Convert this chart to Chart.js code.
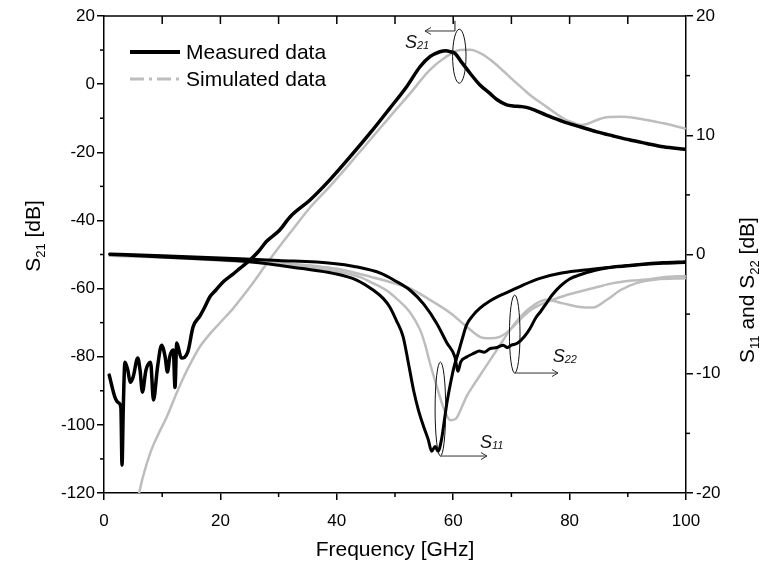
<!DOCTYPE html>
<html><head><meta charset="utf-8">
<script src="https://cdn.jsdelivr.net/npm/chart.js@4.4.1/dist/chart.umd.min.js"></script>
<style>html,body{margin:0;padding:0;background:#fff;}#wrap{width:763px;height:567px;}</style>
</head><body><div id="wrap"><canvas id="c" width="763" height="567"></canvas></div>
<script>
// ---------- data ----------
const xTickValues = [0, 20, 40, 60, 80, 100];
const xMinorValues = [10, 30, 50, 70, 90];
const xTopTickValues = [10, 20, 30, 40, 50, 60, 70, 80, 90];
const leftTickValues = [-120, -100, -80, -60, -40, -20, 0, 20];
const leftMinorValues = [-110, -90, -70, -50, -30, -10, 10];
const rightTickValues = [-20, -10, 0, 10, 20];
const rightMinorValues = [-15, -5, 5, 15];

const s21MeasF = [0.9,1.9,2.5,2.9,3.1,3.3,3.6,4.1,4.5,5.0,5.8,6.2,6.6,7.2,8.0,8.5,9.2,9.9,10.5,10.9,11.3,11.9,12.2,12.5,13.3,14.4,15.3,16.5,17.3,18.2,19.2,20.5,22,23.4,25.1,26.5,27.9,30.2,32,35.4,38.8,42.3,45.7,49.1,52,54.3,56,57.7,58.8,59.5,60.3,61.5,62.9,64.6,66.3,67.5,69.2,70.3,71.8,73.2,76,78.9,81.8,84.7,87.5,90.4,93.2,96.1,99.8];
const s21MeasDB = [-85.4,-92,-93.5,-95,-111.8,-96,-81.6,-84,-87.5,-86,-80.4,-84,-90.4,-84,-81.6,-92.7,-83,-76.6,-80,-84.5,-80,-78,-89,-76,-80.4,-78.6,-71.3,-68,-65.5,-62.4,-60.5,-58,-56,-54,-51.6,-49.2,-46.2,-42.8,-38.9,-34,-28.1,-21.3,-14.4,-7.1,-0.75,5.1,8.05,9.5,9.8,9.5,9.05,6.3,3.2,-0.25,-2.7,-4.5,-6.1,-6.4,-6.6,-7.1,-9.1,-11,-12.5,-14,-15.2,-16.4,-17.4,-18.4,-19.1];

const s21SimF = [5.9,6.7,8,9.4,10.8,12.2,13.6,15,16.5,18.2,19.9,22.2,25.1,28,30.8,32.5,35.4,38.8,42.3,45.7,49.1,52.6,56,58.8,61.2,62.9,65.2,66.5,68,70.3,72,73.2,76,78.9,80.6,81.8,83,84,86.4,88.7,91.5,96.1,99.8];
const s21SimDB = [-121,-115.2,-108,-102.5,-97.6,-91.8,-86.3,-81.5,-77,-73.3,-70.1,-65.8,-59.5,-52.6,-46.2,-42.5,-36.2,-30,-23.2,-16.4,-9.6,-2.7,4.2,8.05,10,10.1,8.6,7.0,4.8,1.2,-1.4,-3.2,-6.6,-10,-11.3,-12,-11.7,-11,-9.7,-9.6,-10,-11.5,-13];

const s11MeasF = [1,10,20,25.1,30,33.7,39.4,43.4,46.3,48,49.1,50.3,51.4,52.3,53.2,54,54.9,55.7,56.3,56.9,57.4,58,58.4,58.9,59.5,60.1,60.9,61.6,62.3,63.4,64.6,66.3,68,69.2,72,74.9,78.4,81.8,84.6,87.5,90.4,93.2,96.1,99.8];
const s11MeasDB = [0,-0.2,-0.45,-0.6,-0.9,-1.16,-1.58,-2.14,-3.0,-3.7,-4.4,-5.6,-6.9,-9.1,-11.4,-13,-14.4,-15.5,-16.5,-16.1,-16.5,-15.5,-14.2,-12.5,-10.9,-9.5,-8.2,-7.0,-5.9,-5.1,-4.5,-3.9,-3.45,-3.2,-2.56,-2.0,-1.58,-1.35,-1.2,-1.05,-0.95,-0.82,-0.74,-0.68];

const s22MeasF = [1,10,20,30,39.4,43,47.7,50,52.6,55,57.2,58.9,60.3,60.8,61.3,62.3,63.5,64.5,65.3,66.3,67.5,68.6,69.3,70,71,72.2,73.2,74.2,75,76,77,78.4,80,81.8,84.6,87.5,90.4,93.2,96.1,99.8];
const s22MeasDB = [0.05,-0.1,-0.3,-0.5,-0.75,-1.0,-1.6,-2.2,-3.0,-4.2,-5.8,-7.4,-8.6,-9.8,-9.0,-8.6,-8.3,-8.1,-8.2,-7.9,-7.8,-7.6,-7.8,-7.6,-7.45,-6.9,-6.2,-5.3,-4.8,-4.1,-3.4,-2.65,-2.05,-1.7,-1.3,-1.05,-0.9,-0.78,-0.68,-0.6];

const s11SimF = [1,10,20,30,40,44,46.2,48.5,50.5,52.5,54.3,55.2,56,57.2,58.3,59.5,60.4,61.3,62.3,63.7,65.2,67.5,69.8,72,74,76,78.9,81.8,84,86.4,88.7,91.5,94.9,99.8];
const s11SimDB = [-0.1,-0.25,-0.5,-0.85,-1.4,-1.9,-2.4,-3.0,-3.8,-4.8,-6.3,-7.6,-9.1,-11.1,-12.8,-13.9,-13.8,-13.0,-11.9,-10.8,-9.7,-8.0,-6.3,-5.0,-4.2,-3.8,-4.1,-4.4,-4.45,-3.8,-3.0,-2.4,-2.1,-2.0];

const s22SimF = [1,10,20,30,40,46,49.1,52.6,56,59.5,62.3,64.6,66.3,68,69.8,72,73.8,76,78.9,81.8,84.6,87.5,90.4,93.2,96.1,99.8];
const s22SimDB = [-0.1,-0.2,-0.4,-0.7,-1.2,-1.9,-2.3,-2.85,-3.8,-4.9,-6.05,-6.9,-7.03,-6.9,-6.3,-5.2,-4.5,-4.0,-3.5,-3.1,-2.75,-2.4,-2.2,-2.1,-1.9,-1.8];

const legendLabels = ['Measured data', 'Simulated data'];

// ---------- helpers ----------
const FONT = "'Liberation Sans', Arial, sans-serif";
const BLACK = '#000000';
const GRAY = '#bdbdbd';
const pts = (f, v) => f.map((x, i) => ({x: x, y: v[i]}));

// annotations anchored in data coordinates
const annotations = [
  {sub: '21', axis: 'y', ellipse: {x: 61.05, y: 8.2, rx: 6.7, ry: 27},
   stem: {x: 60.3, y1: 18.6, y2: 15.6}, arrow: {x1: 60.3, x2: 55.15, y: 15.6},
   text: {x: 51.7, y: 10.6}},
  {sub: '11', axis: 'y2', ellipse: {x: 57.8, y: -12.96, rx: 5.3, ry: 47},
   arrow: {x1: 57.8, x2: 65.8, y: -16.9}, text: {x: 64.6, y: -16.2}},
  {sub: '22', axis: 'y2', ellipse: {x: 70.57, y: -6.67, rx: 5.3, ry: 39},
   arrow: {x1: 70.57, x2: 78.0, y: -9.94}, text: {x: 77.1, y: -9.0}}
];

function line(ctx, x1, y1, x2, y2) { ctx.beginPath(); ctx.moveTo(x1, y1); ctx.lineTo(x2, y2); ctx.stroke(); }

const framePlugin = {
  id: 'frame',
  afterDraw(chart) {
    const {ctx, chartArea: a, scales: {x, y, y2}} = chart;
    ctx.save();
    ctx.strokeStyle = BLACK; ctx.lineWidth = 1.5;
    line(ctx, a.left, a.top, a.right, a.top);
    xMinorValues.forEach(v => { const p = x.getPixelForValue(v); line(ctx, p, a.bottom, p, a.bottom + 4); });
    xTopTickValues.forEach(v => { const p = x.getPixelForValue(v); line(ctx, p, a.top, p, a.top + 8); });
    leftMinorValues.forEach(v => { const p = y.getPixelForValue(v); line(ctx, a.left - 4, p, a.left, p); });
    rightMinorValues.forEach(v => { const p = y2.getPixelForValue(v); line(ctx, a.right, p, a.right + 4, p); });
    ctx.restore();
  }
};

function drawRich(ctx, parts, cx, cy, size, rot, italic) {
  ctx.save();
  ctx.translate(cx, cy); ctx.rotate(rot);
  const subSize = Math.round(size * 0.6);
  const st = italic ? 'italic ' : '';
  let total = 0;
  const widths = parts.map(([t, s]) => { ctx.font = st + (s ? subSize : size) + 'px ' + FONT; const w = ctx.measureText(t).width; total += w; return w; });
  let xx = -total / 2;
  ctx.textBaseline = 'alphabetic'; ctx.textAlign = 'left'; ctx.fillStyle = BLACK;
  parts.forEach(([t, s], i) => {
    ctx.font = st + (s ? subSize : size) + 'px ' + FONT;
    ctx.fillText(t, xx, size * 0.36 + (s ? size * 0.28 : 0));
    xx += widths[i];
  });
  ctx.restore();
}

const titlesPlugin = {
  id: 'sideTitles',
  afterDraw(chart) {
    const {ctx, chartArea: a} = chart;
    drawRich(ctx, [['S', 0], ['21', 1], [' [dB]', 0]], a.left - 72, a.top + 220, 21, -Math.PI / 2, false);
    drawRich(ctx, [['S', 0], ['11', 1], [' and S', 0], ['22', 1], [' [dB]', 0]], a.right + 60, a.top + 274, 21, -Math.PI / 2, false);
  }
};

const legendPlugin = {
  id: 'insideLegend',
  afterDraw(chart) {
    const {ctx, chartArea: a} = chart;
    ctx.save();
    const x1 = a.left + 26, x2 = a.left + 76, yA = a.top + 36, yB = a.top + 63;
    ctx.lineCap = 'butt';
    ctx.strokeStyle = BLACK; ctx.lineWidth = 4; line(ctx, x1, yA, x2, yA);
    ctx.strokeStyle = GRAY; ctx.lineWidth = 3; ctx.setLineDash([14, 5, 3, 5]); line(ctx, x1, yB, x2, yB);
    ctx.setLineDash([]);
    ctx.fillStyle = BLACK; ctx.font = '21px ' + FONT; ctx.textBaseline = 'middle'; ctx.textAlign = 'left';
    ctx.fillText(legendLabels[0], x2 + 6, yA + 1);
    ctx.fillText(legendLabels[1], x2 + 6, yB + 1);
    ctx.restore();
  }
};

const annotationPlugin = {
  id: 'sAnnotations',
  afterDatasetsDraw(chart) {
    const {ctx, scales} = chart;
    const x = scales.x;
    ctx.save();
    annotations.forEach(an => {
      const ys = scales[an.axis];
      ctx.strokeStyle = '#111'; ctx.lineWidth = 1;
      const e = an.ellipse;
      const ex = x.getPixelForValue(e.x), ey = ys.getPixelForValue(e.y);
      ctx.beginPath(); ctx.ellipse(ex, ey, e.rx, e.ry, 0, 0, Math.PI * 2); ctx.stroke();
      if (an.stem) {
        const sx = x.getPixelForValue(an.stem.x);
        line(ctx, sx, ys.getPixelForValue(an.stem.y1), sx, ys.getPixelForValue(an.stem.y2));
      }
      const ax1 = x.getPixelForValue(an.arrow.x1), ax2 = x.getPixelForValue(an.arrow.x2), ay = ys.getPixelForValue(an.arrow.y);
      ctx.strokeStyle = '#333';
      line(ctx, ax1, ay, ax2, ay);
      const dir = ax2 > ax1 ? 1 : -1;
      ctx.beginPath(); ctx.moveTo(ax2 - dir * 6, ay - 3.5); ctx.lineTo(ax2, ay); ctx.lineTo(ax2 - dir * 6, ay + 3.5); ctx.stroke();
      const tx = x.getPixelForValue(an.text.x), ty = ys.getPixelForValue(an.text.y);
      ctx.fillStyle = '#111'; ctx.textBaseline = 'alphabetic'; ctx.textAlign = 'left';
      ctx.font = 'italic 18px ' + FONT; ctx.fillText('S', tx, ty);
      const w = ctx.measureText('S').width;
      ctx.font = 'italic 11px ' + FONT; ctx.fillText(an.sub, tx + w, ty + 1);
    });
    ctx.restore();
  }
};

const tickFont = {family: FONT, size: 17};
const axisCommon = {
  grid: {display: true, drawOnChartArea: false, drawTicks: true, tickLength: 7, color: BLACK, lineWidth: 1.5},
  border: {display: true, color: BLACK, width: 1.5}
};

new Chart(document.getElementById('c'), {
  type: 'line',
  data: {
    datasets: [
      {label: 'Measured S21', data: pts(s21MeasF, s21MeasDB), yAxisID: 'y', borderColor: BLACK, borderWidth: 3.5},
      {label: 'Measured S11', data: pts(s11MeasF, s11MeasDB), yAxisID: 'y2', borderColor: BLACK, borderWidth: 3},
      {label: 'Measured S22', data: pts(s22MeasF, s22MeasDB), yAxisID: 'y2', borderColor: BLACK, borderWidth: 3},
      {label: 'Simulated S21', data: pts(s21SimF, s21SimDB), yAxisID: 'y', borderColor: GRAY, borderWidth: 2.5},
      {label: 'Simulated S11', data: pts(s11SimF, s11SimDB), yAxisID: 'y2', borderColor: GRAY, borderWidth: 2.5},
      {label: 'Simulated S22', data: pts(s22SimF, s22SimDB), yAxisID: 'y2', borderColor: GRAY, borderWidth: 2.5}
    ]
  },
  options: {
    responsive: false, animation: false, devicePixelRatio: 1,
    layout: {padding: {top: 16, left: 0, right: 0, bottom: 0}},
    elements: {point: {radius: 0}, line: {cubicInterpolationMode: 'monotone', borderJoinStyle: 'round', borderCapStyle: 'round'}},
    plugins: {legend: {display: false}, tooltip: {enabled: false}},
    scales: {
      x: Object.assign({}, axisCommon, {
        type: 'linear', min: 0, max: 100, position: 'bottom',
        afterBuildTicks: s => { s.ticks = xTickValues.map(v => ({value: v})); },
        afterFit: s => { s.height = 74; },
        ticks: {font: tickFont, color: BLACK, padding: 11, maxRotation: 0, autoSkip: false},
        title: {display: true, text: 'Frequency [GHz]', color: BLACK, font: {family: FONT, size: 21}, padding: {top: 0, bottom: 4}}
      }),
      y: Object.assign({}, axisCommon, {
        type: 'linear', min: -120, max: 20, position: 'left',
        afterBuildTicks: s => { s.ticks = leftTickValues.map(v => ({value: v})); },
        afterFit: s => { s.width = 104; },
        ticks: {font: tickFont, color: BLACK, padding: 2, autoSkip: false}
      }),
      y2: Object.assign({}, axisCommon, {
        type: 'linear', min: -20, max: 20, position: 'right',
        afterBuildTicks: s => { s.ticks = rightTickValues.map(v => ({value: v})); },
        afterFit: s => { s.width = 77; },
        ticks: {font: tickFont, color: BLACK, padding: 3, autoSkip: false}
      })
    }
  },
  plugins: [framePlugin, titlesPlugin, legendPlugin, annotationPlugin]
});
</script></body></html>
